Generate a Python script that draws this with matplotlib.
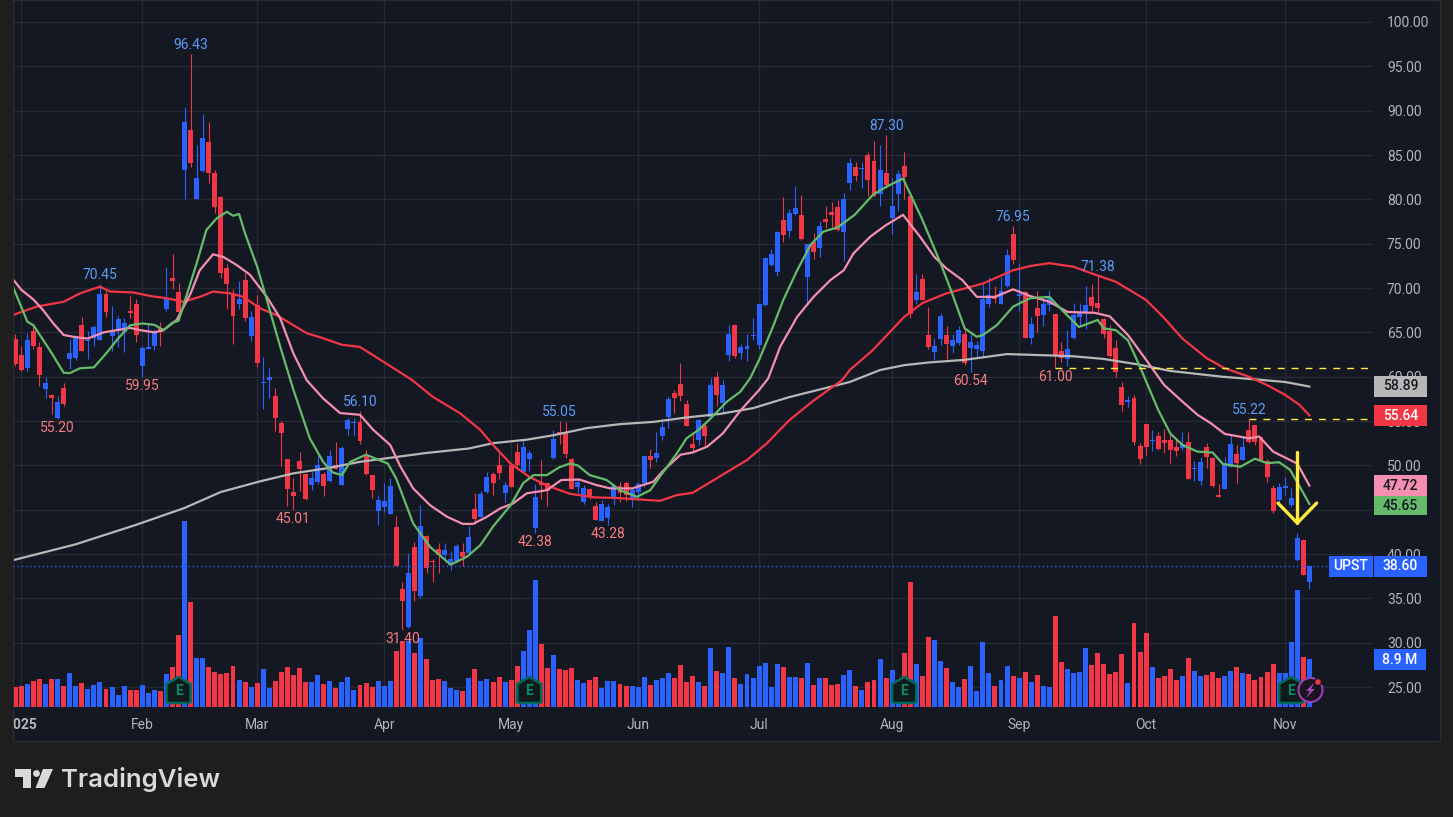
import matplotlib
matplotlib.use('Agg')
import matplotlib.pyplot as plt
from matplotlib.patches import Rectangle, Polygon, Circle
from matplotlib.transforms import Affine2D

# daily candles, Dec 31 2024 .. Nov 7 2025
opens = [64.25,62.45,60.98,65.16,63.35,58.61,57.94,55.34,58.73,62.0,
62.11,65.83,64.0,64.37,64.14,69.33,64.59,65.16,65.04,67.41,
68.2,61.21,63.13,63.46,65.49,67.64,71.13,69.55,83.31,87.82,
80.04,83.2,86.47,82.97,80.27,72.26,69.22,68.2,70.91,64.59,
68.09,59.25,59.63,57.83,54.78,50.72,47.0,50.5,49.03,47.79,
48.13,49.03,48.24,50.04,47.79,54.1,54.78,54.89,51.17,48.92,
44.86,45.31,44.52,43.05,36.06,31.78,40.8,35.27,42.04,39.2,
40.57,39.9,38.77,39.22,40.23,40.12,45.08,44.18,47.0,49.03,
50.04,46.89,50.04,51.51,49.26,50.72,42.94,47.98,48.01,50.83,
53.77,53.77,50.72,47.56,45.87,47.34,45.42,43.73,44.07,46.43,
47.68,48.01,46.1,47.0,48.01,51.06,50.83,53.31,55.46,58.16,
59.18,56.92,52.41,52.86,54.44,55.46,59.97,57.04,62.45,65.83,
62.67,63.13,64.6,63.58,68.09,72.6,71.81,77.67,76.43,78.35,
78.24,71.25,75.19,74.52,77.79,78.58,79.14,76.32,81.85,83.65,
83.45,85.0,84.33,80.6,82.97,77.9,80.6,83.76,80.38,68.65,
71.02,64.7,62.79,64.25,64.7,63.46,63.8,64.82,63.24,63.13,
62.9,68.2,69.1,68.2,70.23,76.09,69.15,69.55,64.37,67.75,
66.96,68.09,67.07,62.9,61.99,64.36,66.73,67.3,68.99,68.31,
66.5,65.15,63.24,58.84,57.2,57.6,52.19,54.66,52.7,53.31,
52.86,52.86,52.07,51.96,52.64,49.55,48.24,52.07,50.83,46.66,
47.34,49.82,51.28,50.61,53.99,54.55,53.2,50.49,47.45,46.09,
47.5,45.53,39.33,41.58,36.85]
closes = [61.43,60.76,64.14,63.46,60.19,59.29,57.6,57.15,56.92,62.67,
64.48,62.9,64.1,65.6,69.33,67.3,65.04,66.51,66.06,67.19,
64.7,63.24,63.31,65.16,65.04,68.88,70.79,67.3,88.73,84.1,
82.41,86.92,82.97,79.14,71.7,70.46,66.85,68.76,66.62,66.73,
61.55,59.33,59.97,55.34,53.65,47.34,46.55,49.59,46.21,48.58,
50.04,47.68,51.06,49.59,51.96,55.12,54.89,52.75,49.03,47.22,
46.1,45.98,47.68,38.65,34.71,37.87,35.84,43.17,38.43,39.05,
39.9,40.46,39.44,40.91,39.67,41.92,43.96,46.77,48.69,48.01,
49.14,47.79,47.56,50.04,52.07,51.4,46.43,47.79,47.11,52.98,
53.54,51.28,47.34,48.13,47.45,46.43,43.84,45.65,45.31,47.68,
46.89,46.66,47.22,47.9,51.06,50.61,51.4,54.33,57.49,57.6,
57.83,54.44,51.96,55.12,53.31,59.07,57.94,59.07,64.82,62.34,
63.35,63.46,64.75,68.2,73.39,73.84,76.32,75.98,78.46,79.03,
75.53,74.97,74.06,77.0,77.48,78.24,76.55,80.04,84.1,82.63,
83.55,82.18,80.38,83.31,81.62,79.25,82.86,82.52,67.07,69.55,
68.65,63.35,63.46,66.85,63.69,64.14,65.27,61.55,63.92,63.58,
68.76,69.21,68.76,69.67,73.73,73.16,69.3,64.37,65.94,66.85,
68.2,68.99,62.33,62.11,63.12,66.96,67.18,68.09,67.97,67.75,
64.81,62.33,60.53,56.81,57.3,52.64,50.72,52.07,52.8,51.85,
52.52,51.73,51.62,52.41,48.46,49.65,50.38,50.94,47.67,46.43,
50.27,52.41,50.27,52.07,52.64,52.64,50.61,48.69,44.85,47.56,
47.6,46.32,41.81,37.64,38.60]
highs = [64.82,63.46,64.93,65.83,63.92,59.97,58.05,57.83,59.29,64.25,
64.7,66.73,65.16,65.83,70.45,69.67,67.98,66.85,66.62,69.1,
68.76,63.46,65.94,65.38,66.17,72.37,73.84,70.57,90.42,96.43,
86.13,89.63,88.73,83.31,80.38,72.71,69.89,70.79,71.7,67.41,
69.22,62.22,60.98,58.73,55.0,50.72,48.58,51.51,49.14,49.26,
51.06,49.26,51.74,52.64,52.19,55.34,55.34,56.1,51.74,48.92,
46.66,48.01,48.58,44.29,36.85,40.12,41.36,45.53,42.15,39.44,
41.25,41.25,40.35,41.14,41.25,43.17,46.89,47.11,49.26,49.26,
51.4,48.13,50.16,52.53,52.98,51.74,47.9,50.61,48.01,53.99,
55.05,54.89,50.83,48.35,47.79,47.45,45.87,46.1,45.65,47.9,
48.13,48.24,47.45,48.13,51.06,51.85,53.77,55.23,57.83,58.5,
61.55,57.37,53.77,55.23,54.89,59.85,60.53,59.63,65.8,65.94,
63.69,64.82,66.62,68.2,73.5,74.4,76.43,80.27,78.91,81.51,
80.49,74.97,76.21,77.56,79.25,79.7,79.93,80.72,84.66,84.21,
84.21,85.34,86.58,86.13,87.3,82.41,83.31,85.34,80.38,71.58,
71.58,67.86,64.37,67.19,65.72,64.82,65.72,65.27,64.82,64.03,
70.46,71.24,70.23,71.24,74.4,76.95,72.82,69.67,66.73,69.67,
68.76,69.78,67.07,63.91,65.27,68.31,68.31,70.23,70.45,71.38,
66.62,65.83,64.14,59.4,57.82,57.94,52.52,54.66,53.99,53.76,
54.1,53.54,52.97,53.76,53.76,50.49,50.94,52.52,50.94,47.9,
50.94,53.42,52.3,53.2,55.22,54.55,53.2,50.72,47.79,48.01,
48.69,47.45,42.37,41.7,38.65]
lows = [61.25,60.68,60.68,63.13,58.95,57.6,55.8,55.2,56.7,60.87,
61.88,62.9,62.0,63.46,64.14,66.73,62.9,63.35,62.79,66.62,
63.92,59.95,63.13,63.01,63.46,67.41,69.89,66.85,80.04,83.65,
80.04,83.09,81.85,78.46,71.13,67.64,63.69,67.64,66.28,64.03,
61.1,56.36,57.6,53.88,49.93,45.42,45.01,47.11,46.1,47.22,
47.9,46.55,48.13,49.59,47.79,53.43,53.31,52.41,48.92,46.32,
43.28,44.74,44.52,38.65,31.40,31.66,34.71,35.05,37.87,36.85,
37.87,39.11,38.2,39.11,38.65,40.01,43.39,44.18,46.89,46.66,
48.47,45.87,47.56,49.59,49.26,49.37,42.38,46.21,45.42,50.72,
52.41,50.83,47.34,46.89,45.65,46.21,43.84,43.73,43.28,45.53,
45.87,45.98,45.31,46.1,47.56,49.7,50.38,52.86,54.22,55.91,
57.26,54.44,51.62,52.3,52.19,55.34,56.7,55.8,61.77,62.11,
62.0,61.77,64.14,63.13,67.97,72.49,71.36,75.19,75.76,78.24,
75.42,68.09,73.27,73.5,76.77,76.88,76.43,73.05,81.06,82.07,
81.28,80.38,80.27,79.25,81.28,76.09,78.69,80.04,66.62,68.2,
68.65,63.13,61.88,63.58,62.0,62.67,63.58,61.32,60.54,62.22,
62.34,67.86,68.31,68.2,70.12,72.71,67.41,64.37,63.69,65.04,
65.72,67.41,61.0,61.66,61.2,64.25,65.72,65.38,67.3,67.3,
64.36,62.22,59.97,56.13,56.58,52.3,50.15,51.17,51.62,51.73,
51.4,50.27,51.06,51.73,48.46,48.24,47.79,49.7,47.56,46.43,
47.34,49.82,48.01,50.61,52.52,52.3,50.49,48.12,44.63,45.87,
46.66,45.3,39.22,37.64,36.06]
volumes = [3.7,3.9,4.3,4.8,5.2,4.3,5.2,5.2,3.9,6.3,
3.9,4.4,3.3,4.1,4.6,3.3,3.7,2.2,3.9,3.2,
3.2,4.1,2.6,3.2,3.0,6.1,7.4,13.3,34.5,19.5,
9.1,9.1,7.4,6.5,6.1,6.3,7.6,5.0,4.6,3.7,
4.4,7.0,3.5,4.8,6.5,7.4,5.9,7.2,4.6,4.6,
5.9,4.3,4.8,3.5,4.6,5.6,3.2,4.1,4.4,3.7,
4.8,3.9,4.8,10.4,12.2,12.2,10.0,12.8,8.9,5.0,
5.2,4.8,3.5,3.2,3.0,5.4,7.0,4.8,5.2,4.6,
5.6,4.6,5.0,7.6,10.4,14.3,23.5,11.7,7.2,9.6,
7.0,6.9,7.2,5.0,4.4,5.0,5.6,3.5,4.8,4.8,
4.3,3.9,3.9,3.7,5.6,4.1,5.0,5.4,6.3,5.4,
7.8,4.6,5.7,4.6,3.9,10.9,6.7,6.3,11.1,5.4,
4.3,6.1,5.4,7.6,8.2,3.7,8.0,7.4,5.6,5.6,
5.4,8.2,4.1,5.4,5.4,4.1,4.3,5.9,6.9,3.9,
3.2,4.6,5.0,8.9,5.4,6.9,5.0,10.0,23.2,8.0,
5.7,13.0,12.4,8.5,7.2,4.6,3.7,5.2,7.6,3.0,
12.05,6.3,3.9,5.0,7.6,5.7,5.4,6.5,4.6,5.9,
3.9,3.7,16.9,8.3,7.0,6.3,6.5,10.9,7.8,10.0,
8.0,6.1,6.5,9.8,4.4,15.6,10.2,13.7,7.4,5.4,
5.7,7.0,5.0,5.7,9.1,6.7,5.7,5.9,6.5,5.4,
5.7,6.7,7.4,6.3,6.1,5.0,5.6,6.5,8.0,6.3,
6.3,12.05,21.7,9.3,8.9]

# moving averages, read at the bar positions in *_days
green_days = [-0.4,2,3,5.7,8,9,10.7,13,15,17,19,21,23,24.5,26,27,30,31.6,33.3,35,36,37,38,40,41.6,43.8,46,48.7,50.9,52.5,54,55.4,58,61.6,63,65.8,68.6,72,74.7,76.9,79,81.9,84,85.7,87.9,90,91.7,93,95,97.8,100,102.8,105,107,109.4,111,113,115,117.7,119.9,121.5,123,125.3,127,129.3,131.5,133.6,136,138.8,141.8,144,146.8,150,153,154.7,157,159,160,162.3,165,167.8,171,173.4,175.9,179,180,182,184,186,189,191,193,195.5,198,199.7,202.6,205,207,209,210.8,212.4,214]
green_vals = [70.15,66.2,65.8,63.0,60.45,60.4,60.95,61.05,62.6,64.3,65.8,66.0,65.85,65.25,66.1,66.3,72.8,76.55,77.85,78.6,78.15,78.35,76.15,72.4,68.65,63.4,58.5,53.05,50.4,49.2,48.9,50.4,51.2,50.2,48.5,43.45,40.8,38.8,39.7,41.0,43.1,45.5,48,48.9,48.9,49.8,50.2,50,48.9,48.35,47.2,46.45,47.2,49.1,51.35,53.05,54,55.3,57.2,58.3,59.8,61.9,65.65,68.65,72,74.85,76.35,76.85,78.25,80.5,81.4,82.35,77.7,72.8,69.8,65.45,64.5,64.7,65.8,67.9,68.85,69,67.3,65.6,66.4,65.45,65.25,64.1,61.1,56.25,53.6,52.3,51.55,51.45,50.15,49.85,50.75,50.25,50.35,49.5,47.6,45.65]
pink_days = [-0.4,1,3,4.6,6.3,8,9.6,12,14.6,19,20.6,23,24.5,26.7,29,30.5,32.7,34.4,36.6,38.8,41.6,43.8,46,48.2,50.9,53.7,57,59.2,62,63.7,65.8,68.6,71.4,74,75.7,78,80.2,82.3,84.6,87.9,90.3,93.3,96,98.4,102,105.5,107,110,112,114.4,117,120,123,124.5,126.5,129.3,132,134.8,137,138.6,141.4,144,146.8,149.6,152,154,156.6,159,162,165,167.8,171,174,178.5,181,184,187,190,193,195.5,197.7,200,204,205.7,208,212,214]
pink_vals = [71,69.8,68.7,67.5,66,64.7,64.5,64.3,65,65.5,65.25,65,65.25,66.4,69.4,72,73.8,73.5,72.6,71.5,69,66.6,62.6,59.6,57.55,55.9,55.7,54,52.3,49.85,47.4,45.5,44.2,43.4,43.4,44.2,45.15,45.7,46.85,47.2,48.35,48.4,47.8,47.4,47.4,48.15,49.3,51.2,51.45,52.1,53.6,56.25,58.5,59.8,63.4,66.75,69,70.9,72,73.9,75.8,77.1,78.25,75.8,73.5,72.2,70.9,69,69,69.85,69.1,68.45,67.3,67.2,66.8,64.7,61.9,59.05,57.2,55.7,54.75,53.55,53.05,53.25,51.55,50.2,47.72]
red_days = [-0.4,3.5,8,10.7,14,15.7,19.5,22.3,25,27.8,30.5,32.7,35.5,37.7,40.5,43.2,46,48.2,50.4,54,57,62,65.6,69,73.6,76.9,79,81.9,85,88,91.7,95.6,100,103.3,106.6,109.4,112,116.5,121,124.3,128,132,136.7,138,141.8,147,150,154,160,165,168,171,175,178,182,187,189.8,193,197,200,204,207,210,212.4,214]
red_vals = [66.95,67.9,68.45,69.4,70.15,69.6,69.5,69.1,68.85,68.45,69,69.6,69.4,69,67.7,66.95,65.8,64.9,64.45,63.6,63.35,61.2,59.63,57.75,55.85,54,52.3,50.2,48.7,47.7,46.8,46.4,46.3,46.15,46,46.65,46.9,48.75,50.6,52.5,55.1,57.3,59.6,60.75,63,66.75,68.3,69.4,70.5,72,72.5,72.8,72.4,71.65,70.7,68.65,66.75,64.3,62.1,60.95,60,59.05,57.95,56.8,55.64]
gray_days = [-0.4,10,20,28,34,40.5,46,51.5,57,62.5,68,75,79,84.6,89,94.5,100,105.5,111,116.5,122,128,138,143,147,151,157,164,171,175,180,185.5,191,199.5,205,210,214]
gray_vals = [39.3,41.1,43.3,45.2,47,48.2,49.1,49.67,50.4,50.9,51.4,51.9,52.5,52.9,53.4,54.2,54.65,54.9,55.4,55.8,56.45,57.7,59.4,60.75,61.3,61.6,61.9,62.55,62.4,62.3,62,61.4,60.65,60,59.7,59.4,58.89]

month_days = [1,21,40,61,82,103,123,145,166,187,210]
month_labels = ['2025','Feb','Mar','Apr','May','Jun','Jul','Aug','Sep','Oct','Nov']
price_ticks = [25,30,35,40,45,50,55,60,65,70,75,80,85,90,95,100]
high_marks = [14,29,57,90,144,165,179,204]
low_marks = [7,21,46,64,86,98,158,172]
earnings_days = [27,85,147,211]

BLUE = '#2962ff'
RED = '#f23645'
PINK = '#f48fb1'
GREEN = '#66bb6a'
GRAY = '#b7b7b7'
YELLOW = '#ffeb3b'
PANE = '#141823'
OUTER = '#1e1e1e'
GRID = '#262a35'
TEXT = '#b2b5be'

plt.rcParams['font.family'] = ['Roboto', 'DejaVu Sans']

W, H = 1453, 817
fig = plt.figure(figsize=(W/100, H/100), dpi=100, facecolor=OUTER)
px = Affine2D().scale(1, -1).translate(0, H)   # picture pixels, y down

rect = [13/W, 1-707/H, (1373-13)/W, 707/H]
xlim = (-0.38, 224.52)
ylim = (22.75, 102.48)

# pane behind everything
fig.add_artist(Rectangle((13, 0), 1427, 741, transform=px, fc=PANE, ec='#2a2d35', lw=1, zorder=-5))

# grid + tick labels
ax = fig.add_axes(rect, zorder=1, facecolor='none')
ax.set_xlim(xlim)
ax.set_ylim(ylim)
ax.set_xticks(month_days, month_labels)
ax.set_yticks(price_ticks, ['%.2f' % p for p in price_ticks])
ax.yaxis.tick_right()
ax.grid(True, color=GRID, lw=1)
ax.tick_params(length=0, labelsize=10, labelcolor=TEXT)
ax.tick_params(axis='x', pad=8)
ax.tick_params(axis='y', pad=10)
ax.get_xticklabels()[0].set_fontweight('bold')
for s in ax.spines.values():
    s.set_visible(False)

colors = [BLUE if c >= o else RED for o, c in zip(opens, closes)]
days = list(range(len(opens)))

# volume
ax_vol = fig.add_axes(rect, zorder=2, facecolor='none')
ax_vol.set_xlim(xlim)
ax_vol.set_ylim(0, 707/5.39)
ax_vol.bar(days, volumes, width=0.82, color=colors, lw=0)
ax_vol.axis('off')

# candles and overlays
ax_p = fig.add_axes(rect, zorder=3, facecolor='none')
ax_p.set_xlim(xlim)
ax_p.set_ylim(ylim)
ax_p.axis('off')
ax_p.vlines(days, lows, highs, colors=colors, lw=0.8)
body_low = [min(o, c) for o, c in zip(opens, closes)]
body_h = [max(abs(c-o), 0.12) for o, c in zip(opens, closes)]
ax_p.bar(days, body_h, bottom=body_low, width=0.82, color=colors, lw=0)

ax_p.plot(gray_days, gray_vals, color=GRAY, lw=1.6)
ax_p.plot(red_days, red_vals, color=RED, lw=1.6)
ax_p.plot(pink_days, pink_vals, color=PINK, lw=1.6)
ax_p.plot(green_days, green_vals, color=GREEN, lw=1.6)

# last price, drawn levels, arrow
ax_p.plot([xlim[0], 217.6], [38.60, 38.60], color=BLUE, lw=1, ls=(0, (1, 2)))
ax_p.plot([172, xlim[1]], [61.00, 61.00], color=YELLOW, lw=1, ls=(0, (5, 5)))
ax_p.plot([204, xlim[1]], [55.22, 55.22], color=YELLOW, lw=1, ls=(0, (5, 5)))
ax_p.plot([212, 212], [51.5, 43.5], color=YELLOW, lw=2.4, solid_capstyle='round')
ax_p.plot([208.8, 212, 215.2], [45.75, 43.5, 45.75], color=YELLOW, lw=2.4, solid_capstyle='round')

for i in high_marks:
    ax_p.annotate('%.2f' % highs[i], (i, highs[i]), xytext=(0, 6.5), textcoords='offset points',
                  ha='center', va='center', color='#5b9cf6', fontsize=10)
for i in low_marks:
    ax_p.annotate('%.2f' % lows[i], (i, lows[i]), xytext=(0, -6.5), textcoords='offset points',
                  ha='center', va='center', color='#f77c80', fontsize=10)


def tag(x0, x1, y0, y1, color, label, tcolor):
    fig.add_artist(Rectangle((x0, y0), x1-x0, y1-y0, transform=px, fc=color, ec='none', zorder=6))
    fig.add_artist(plt.Text((x0+x1)/2/W, 1-(y0+y1)/2/H, label, color=tcolor, fontsize=10,
                            ha='center', va='center', zorder=7, fontweight='medium'))


tag(1374, 1427, 376, 397, GRAY, '58.89', '#131722')
tag(1374, 1427, 405, 426, RED, '55.64', 'white')
tag(1374, 1427, 475, 496, PINK, '47.72', '#131722')
tag(1374, 1427, 496, 515, GREEN, '45.65', '#131722')
tag(1374, 1427, 556, 577, BLUE, '38.60', 'white')
tag(1329, 1373, 556, 577, BLUE, 'UPST', 'white')
tag(1374, 1426, 649, 670, BLUE, '8.9 M', 'white')

# earnings markers
for d in earnings_days:
    cx = ax_p.transData.transform((d, 0))[0]
    pts = [(cx-12, 684), (cx, 677), (cx+12, 684), (cx+12, 702), (cx+10, 703), (cx-10, 703), (cx-12, 702)]
    fig.add_artist(Polygon(pts, closed=True, transform=px, fc='#0f1a1b', ec='#00695c', lw=1.8, zorder=8))
    fig.add_artist(plt.Text(cx/W, 1-691/H, 'E', color='#0b8a6a', fontsize=10, fontweight='bold',
                            ha='center', va='center', zorder=9))

# lightning marker on the last bar
fig.add_artist(Circle((1310.5, 690), 12, transform=px, fc='#1a1420', ec='#9c3fb5', lw=1.5, zorder=10))
fig.add_artist(Polygon([(1315, 682), (1306, 691), (1310, 691), (1306, 698), (1315, 689), (1311, 689)],
                       closed=True, transform=px, fc='#ab47bc', ec='none', zorder=11))
fig.add_artist(Circle((1318, 682), 3.5, transform=px, fc=RED, ec='#141823', lw=1, zorder=12))

# left strip hides the part of the 2025 label outside the pane
fig.add_artist(Rectangle((0, 0), 13, 741, transform=px, fc=OUTER, ec='none', zorder=5))
fig.add_artist(Rectangle((12.5, 0), 1, 741, transform=px, fc='#2a2d35', ec='none', zorder=5))

# logo
LOGO = '#d9d9d9'
fig.add_artist(Polygon([(15, 769), (31, 769), (31, 788), (23, 788), (23, 777), (15, 777)], closed=True,
                       transform=px, fc=LOGO, ec='none'))
fig.add_artist(Circle((36.5, 773.5), 3.4, transform=px, fc=LOGO, ec='none'))
fig.add_artist(Polygon([(43, 769), (53, 769), (44.5, 788), (35.5, 788)], closed=True,
                       transform=px, fc=LOGO, ec='none'))
fig.text(61/W, 1-780/H, 'TradingView', color=LOGO, fontsize=18.5, fontweight='semibold',
         family=['Inter', 'DejaVu Sans'], ha='left', va='center')

fig.savefig('out.png', dpi=100, facecolor=OUTER)
